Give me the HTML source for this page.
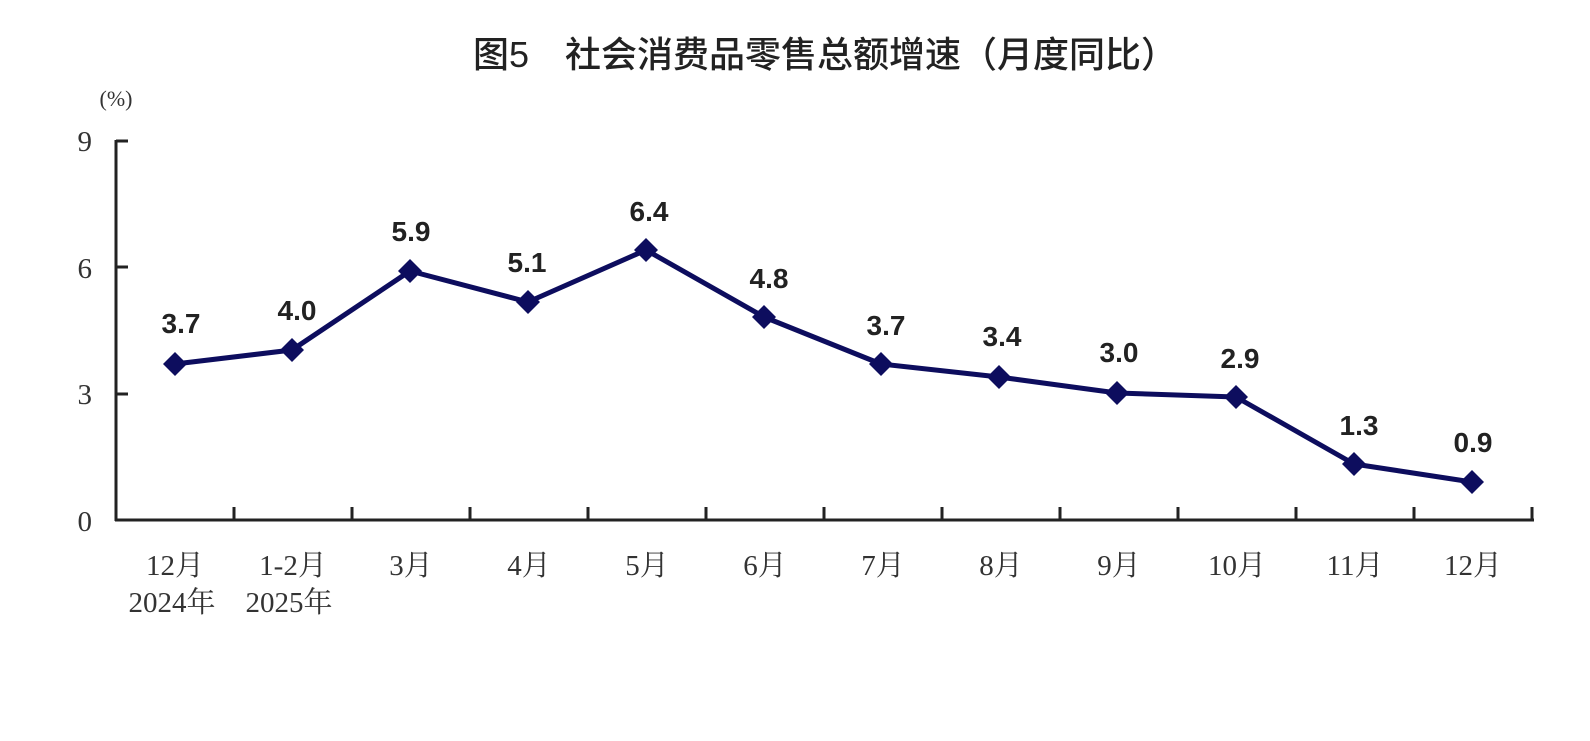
<!DOCTYPE html>
<html><head><meta charset="utf-8"><style>
html,body{margin:0;padding:0;background:#fff;}
svg{display:block;}
.t{font-family:"Liberation Serif","Noto Serif CJK SC",serif;fill:#333;font-size:29px;}
.v{font-family:"Liberation Sans",sans-serif;font-weight:bold;font-size:28px;fill:#222;}
</style></head><body>
<svg width="1590" height="741" viewBox="0 0 1590 741" xmlns="http://www.w3.org/2000/svg">
<rect width="1590" height="741" fill="#fff"/>
<text x="825" y="67" text-anchor="middle" style="font-family:'Liberation Sans','Noto Sans CJK SC',sans-serif;font-size:36px;font-weight:500;fill:#222;">图5　社会消费品零售总额增速（月度同比）</text>
<text class="t" x="116" y="106" text-anchor="middle" style="font-size:22px">(%)</text>
<g stroke="#222" stroke-width="3" fill="none">
<line x1="116" y1="140" x2="116" y2="521"/>
<line x1="115" y1="520" x2="1534" y2="520"/>
<line x1="116" y1="141" x2="128" y2="141"/>
<line x1="116" y1="267" x2="128" y2="267"/>
<line x1="116" y1="394" x2="128" y2="394"/>
</g>
<g stroke="#222" stroke-width="3">
<line x1="234" y1="520" x2="234" y2="507"/><line x1="352" y1="520" x2="352" y2="507"/>
<line x1="470" y1="520" x2="470" y2="507"/><line x1="588" y1="520" x2="588" y2="507"/>
<line x1="706" y1="520" x2="706" y2="507"/><line x1="824" y1="520" x2="824" y2="507"/>
<line x1="942" y1="520" x2="942" y2="507"/><line x1="1060" y1="520" x2="1060" y2="507"/>
<line x1="1178" y1="520" x2="1178" y2="507"/><line x1="1296" y1="520" x2="1296" y2="507"/>
<line x1="1414" y1="520" x2="1414" y2="507"/><line x1="1532" y1="520" x2="1532" y2="507"/>
</g>
<g class="t" text-anchor="end">
<text x="92" y="151">9</text><text x="92" y="278">6</text><text x="92" y="404">3</text><text x="92" y="531">0</text>
</g>
<g class="t" text-anchor="middle">
<text x="175" y="575">12月</text><text x="293" y="575">1-2月</text><text x="411" y="575">3月</text>
<text x="529" y="575">4月</text><text x="647" y="575">5月</text><text x="765" y="575">6月</text>
<text x="883" y="575">7月</text><text x="1001" y="575">8月</text><text x="1119" y="575">9月</text>
<text x="1237" y="575">10月</text><text x="1355" y="575">11月</text><text x="1473" y="575">12月</text>
<text x="172" y="612">2024年</text><text x="289" y="612">2025年</text>
</g>
<polyline fill="none" stroke="#0d0d5e" stroke-width="5" stroke-linejoin="round" points="175,364 292,350 410,271 528,302 646,250 764,317 881,364 999,377 1117,393 1236,397 1354,464 1472,482"/>
<g fill="#0d0d5e">
<path d="M175,352 l12,12 l-12,12 l-12,-12z"/><path d="M292,338 l12,12 l-12,12 l-12,-12z"/>
<path d="M410,259 l12,12 l-12,12 l-12,-12z"/><path d="M528,290 l12,12 l-12,12 l-12,-12z"/>
<path d="M646,238 l12,12 l-12,12 l-12,-12z"/><path d="M764,305 l12,12 l-12,12 l-12,-12z"/>
<path d="M881,352 l12,12 l-12,12 l-12,-12z"/><path d="M999,365 l12,12 l-12,12 l-12,-12z"/>
<path d="M1117,381 l12,12 l-12,12 l-12,-12z"/><path d="M1236,385 l12,12 l-12,12 l-12,-12z"/>
<path d="M1354,452 l12,12 l-12,12 l-12,-12z"/><path d="M1472,470 l12,12 l-12,12 l-12,-12z"/>
</g>
<g class="v" text-anchor="middle">
<text x="181" y="333">3.7</text><text x="297" y="320">4.0</text><text x="411" y="241">5.9</text>
<text x="527" y="272">5.1</text><text x="649" y="221">6.4</text><text x="769" y="288">4.8</text>
<text x="886" y="335">3.7</text><text x="1002" y="346">3.4</text><text x="1119" y="362">3.0</text>
<text x="1240" y="368">2.9</text><text x="1359" y="435">1.3</text><text x="1473" y="452">0.9</text>
</g>
</svg>
</body></html>
